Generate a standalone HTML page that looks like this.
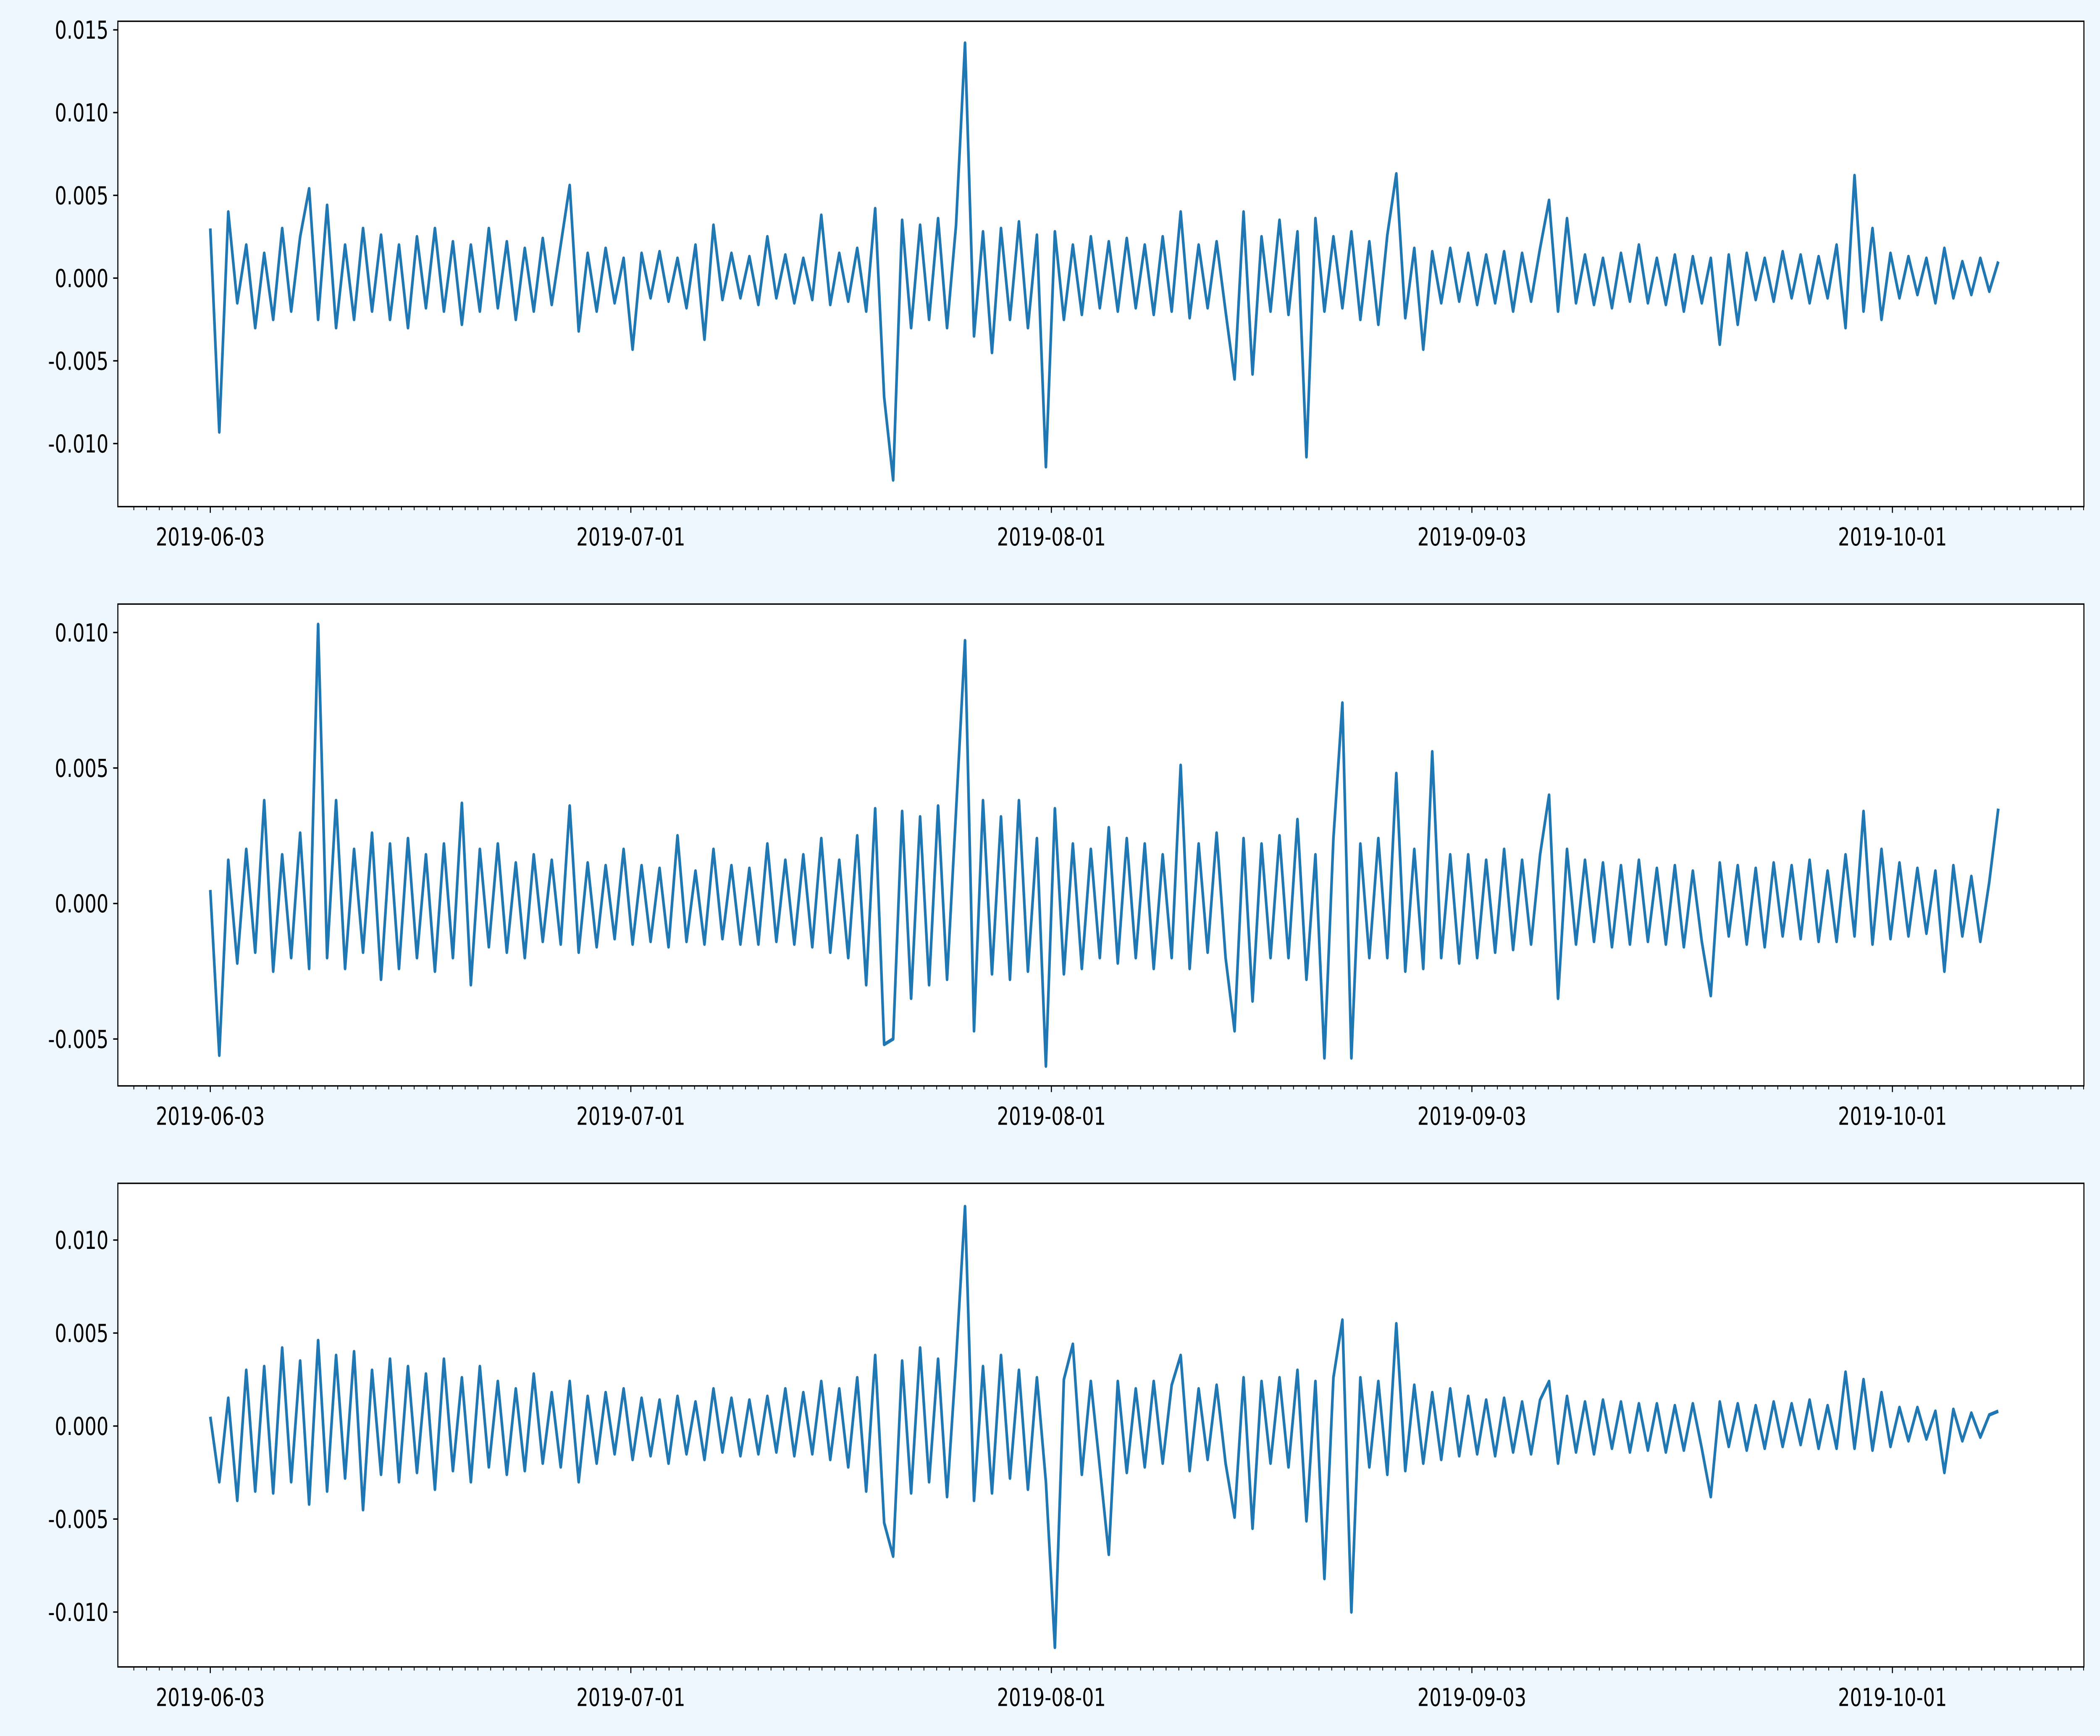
<!DOCTYPE html>
<html><head><meta charset="utf-8"><style>
html,body{margin:0;padding:0;background:#eff7fe;width:100%;height:100%;overflow:hidden;}
svg{display:block;width:100vw;height:100vh;}
text{font-family:"DejaVu Sans","Liberation Sans",sans-serif;font-size:14px;fill:#000;}
</style></head><body>
<svg id="fig" viewBox="0 0 1568 980" preserveAspectRatio="none" xmlns="http://www.w3.org/2000/svg">
<rect x="0" y="0" width="1568" height="980" fill="#eff7fe"/>
</svg>
<script>
const xTickLabels=["2019-06-03","2019-07-01","2019-08-01","2019-09-03","2019-10-01"];
const series1=[3,-9.3,4,-1.5,2,-3,1.5,-2.5,3,-2,2.5,5.4,-2.5,4.4,-3,2,-2.5,3,-2,2.6,
-2.5,2,-3,2.5,-1.8,3,-2,2.2,-2.8,2,-2,3,-1.8,2.2,-2.5,1.8,-2,2.4,-1.6,2,
5.6,-3.2,1.5,-2,1.8,-1.5,1.2,-4.3,1.5,-1.2,1.6,-1.4,1.2,-1.8,2,-3.7,3.2,-1.3,1.5,-1.2,
1.3,-1.6,2.5,-1.2,1.4,-1.5,1.2,-1.3,3.8,-1.6,1.5,-1.4,1.8,-2,4.2,-7.2,-12.2,3.5,-3,3.2,
-2.5,3.6,-3,3.2,14.2,-3.5,2.8,-4.5,3,-2.5,3.4,-3,2.6,-11.4,2.8,-2.5,2,-2.2,2.5,-1.8,
2.2,-2,2.4,-1.8,2,-2.2,2.5,-2,4,-2.4,2,-1.8,2.2,-2,-6.1,4,-5.8,2.5,-2,3.5,
-2.2,2.8,-10.8,3.6,-2,2.5,-1.8,2.8,-2.5,2.2,-2.8,2.6,6.3,-2.4,1.8,-4.3,1.6,-1.5,1.8,-1.4,
1.5,-1.6,1.4,-1.5,1.6,-2,1.5,-1.4,1.8,4.7,-2,3.6,-1.5,1.4,-1.6,1.2,-1.8,1.5,-1.4,2,
-1.5,1.2,-1.6,1.4,-2,1.3,-1.5,1.2,-4,1.4,-2.8,1.5,-1.3,1.2,-1.4,1.6,-1.2,1.4,-1.5,1.3,
-1.2,2,-3,6.2,-2,3,-2.5,1.5,-1.2,1.3,-1,1.2,-1.5,1.8,-1.2,1,-1,1.2,-0.8,1];
const series2=[0.5,-5.6,1.6,-2.2,2,-1.8,3.8,-2.5,1.8,-2,2.6,-2.4,10.3,-2,3.8,-2.4,2,-1.8,2.6,-2.8,
2.2,-2.4,2.4,-2,1.8,-2.5,2.2,-2,3.7,-3,2,-1.6,2.2,-1.8,1.5,-2,1.8,-1.4,1.6,-1.5,
3.6,-1.8,1.5,-1.6,1.4,-1.3,2,-1.5,1.4,-1.4,1.3,-1.6,2.5,-1.4,1.2,-1.5,2,-1.3,1.4,-1.5,
1.3,-1.5,2.2,-1.4,1.6,-1.5,1.8,-1.6,2.4,-1.8,1.6,-2,2.5,-3,3.5,-5.2,-5,3.4,-3.5,3.2,
-3,3.6,-2.8,3.4,9.7,-4.7,3.8,-2.6,3.2,-2.8,3.8,-2.5,2.4,-6,3.5,-2.6,2.2,-2.4,2,-2,
2.8,-2.2,2.4,-2,2.2,-2.4,1.8,-2,5.1,-2.4,2.2,-1.8,2.6,-2,-4.7,2.4,-3.6,2.2,-2,2.5,
-2,3.1,-2.8,1.8,-5.7,2.4,7.4,-5.7,2.2,-2,2.4,-2,4.8,-2.5,2,-2.4,5.6,-2,1.8,-2.2,
1.8,-2,1.6,-1.8,2,-1.7,1.6,-1.5,1.8,4,-3.5,2,-1.5,1.6,-1.4,1.5,-1.6,1.4,-1.5,1.6,
-1.4,1.3,-1.5,1.4,-1.6,1.2,-1.4,-3.4,1.5,-1.2,1.4,-1.5,1.3,-1.6,1.5,-1.2,1.4,-1.3,1.6,-1.4,
1.2,-1.4,1.8,-1.2,3.4,-1.5,2,-1.3,1.5,-1.2,1.3,-1.1,1.2,-2.5,1.4,-1.2,1,-1.4,0.8,3.5];
const series3=[0.5,-3,1.5,-4,3,-3.5,3.2,-3.6,4.2,-3,3.5,-4.2,4.6,-3.5,3.8,-2.8,4,-4.5,3,-2.6,
3.6,-3,3.2,-2.5,2.8,-3.4,3.6,-2.4,2.6,-3,3.2,-2.2,2.4,-2.6,2,-2.4,2.8,-2,1.8,-2.2,
2.4,-3,1.6,-2,1.8,-1.5,2,-1.8,1.5,-1.6,1.4,-2,1.6,-1.5,1.3,-1.8,2,-1.4,1.5,-1.6,
1.4,-1.5,1.6,-1.4,2,-1.6,1.8,-1.5,2.4,-1.8,2,-2.2,2.6,-3.5,3.8,-5.2,-7,3.5,-3.6,4.2,
-3,3.6,-3.8,3.5,11.8,-4,3.2,-3.6,3.8,-2.8,3,-3.4,2.6,-3,-11.9,2.5,4.4,-2.6,2.4,-2.2,
-6.9,2.4,-2.5,2,-2.2,2.4,-2,2.2,3.8,-2.4,2,-1.8,2.2,-2,-4.9,2.6,-5.5,2.4,-2,2.6,
-2.2,3,-5.1,2.4,-8.2,2.6,5.7,-10,2.6,-2.2,2.4,-2.6,5.5,-2.4,2.2,-2,1.8,-1.8,2,-1.6,
1.6,-1.5,1.4,-1.6,1.5,-1.4,1.3,-1.5,1.4,2.4,-2,1.6,-1.4,1.3,-1.5,1.4,-1.2,1.3,-1.4,1.2,
-1.3,1.2,-1.4,1.1,-1.3,1.2,-1.2,-3.8,1.3,-1.1,1.2,-1.3,1.1,-1.2,1.3,-1.1,1.2,-1,1.4,-1.2,
1.1,-1.2,2.9,-1.2,2.5,-1.3,1.8,-1.1,1,-0.8,1,-0.7,0.8,-2.5,0.9,-0.8,0.7,-0.6,0.6,0.8];
const yTicks1=["0.015","0.010","0.005","0.000","-0.005","-0.010"];
const yTicks2=["0.010","0.005","0.000","-0.005"];
const yTicks3=["0.010","0.005","0.000","-0.005","-0.010"];

const NS="http://www.w3.org/2000/svg";
const svg=document.getElementById('fig');
function mk(tag,attrs,parent){const e=document.createElementNS(NS,tag);for(const k in attrs)e.setAttribute(k,attrs[k]);(parent||svg).appendChild(e);return e;}

const panels=[
 {top:12,bot:286,ymax:0.01552,ymin:-0.01381,data:series1,ticks:yTicks1,name:'top'},
 {top:341,bot:613,ymax:0.01105,ymin:-0.00673,data:series2,ticks:yTicks2,name:'middle'},
 {top:668,bot:941,ymax:0.01305,ymin:-0.01295,data:series3,ticks:yTicks3,name:'bottom'}
];
const AX_L=88,AX_R=1556;
const T0=-0.0517,T1=1.0479;
const majorT=[0,0.2352,0.4704,0.7056,0.9408];
function xs(t){return AX_L+(t-T0)/(T1-T0)*(AX_R-AX_L);}

panels.forEach((p,pi)=>{
  const g=mk('g',{});
  
  
  const ys=v=>p.bot-(v-p.ymin)/(p.ymax-p.ymin)*(p.bot-p.top);
  const bg=mk('rect',{x:AX_L,y:p.top,width:AX_R-AX_L,height:p.bot-p.top,fill:'#fff'},g);
  
  
  const n=p.data.length;
  let d='';
  p.data.forEach((v,i)=>{const t=i/(n-1);d+=(i?'L':'M')+xs(t).toFixed(2)+' '+ys(v/1000).toFixed(2);});
  const line=mk('path',{d:d,fill:'none',stroke:'#1f77b4','stroke-width':2,'stroke-linejoin':'round'},g);
  
  
  const fr=mk('rect',{x:AX_L,y:p.top,width:AX_R-AX_L,height:p.bot-p.top,fill:'none',stroke:'#000','stroke-width':0.8},g);
  
  
  const step=0.2352/33;
  for(let t=majorT[0]-6*step;t<T1;t+=step){
    if(t<T0)continue;
    const x=xs(t);
    const tk=mk('line',{x1:x,x2:x,y1:p.bot,y2:p.bot+2,stroke:'#000','stroke-width':0.6},g);
    
    
  }
  majorT.forEach((t,i)=>{
    const x=xs(t);
    const tk=mk('line',{x1:x,x2:x,y1:p.bot,y2:p.bot+3.5,stroke:'#000','stroke-width':0.8},g);
    
    
    const lb=mk('text',{x:x,y:p.bot+22,'text-anchor':'middle'},g);
    lb.textContent=xTickLabels[i];
    
    
  });
  p.ticks.forEach(s=>{
    const v=parseFloat(s);const y=ys(v);
    const tk=mk('line',{x1:AX_L-3.5,x2:AX_L,y1:y,y2:y,stroke:'#000','stroke-width':0.8},g);
    
    
    const lb=mk('text',{x:AX_L-7,y:y+5,'text-anchor':'end'},g);
    lb.textContent=s;
    
    
  });
});
</script>
</body></html>
